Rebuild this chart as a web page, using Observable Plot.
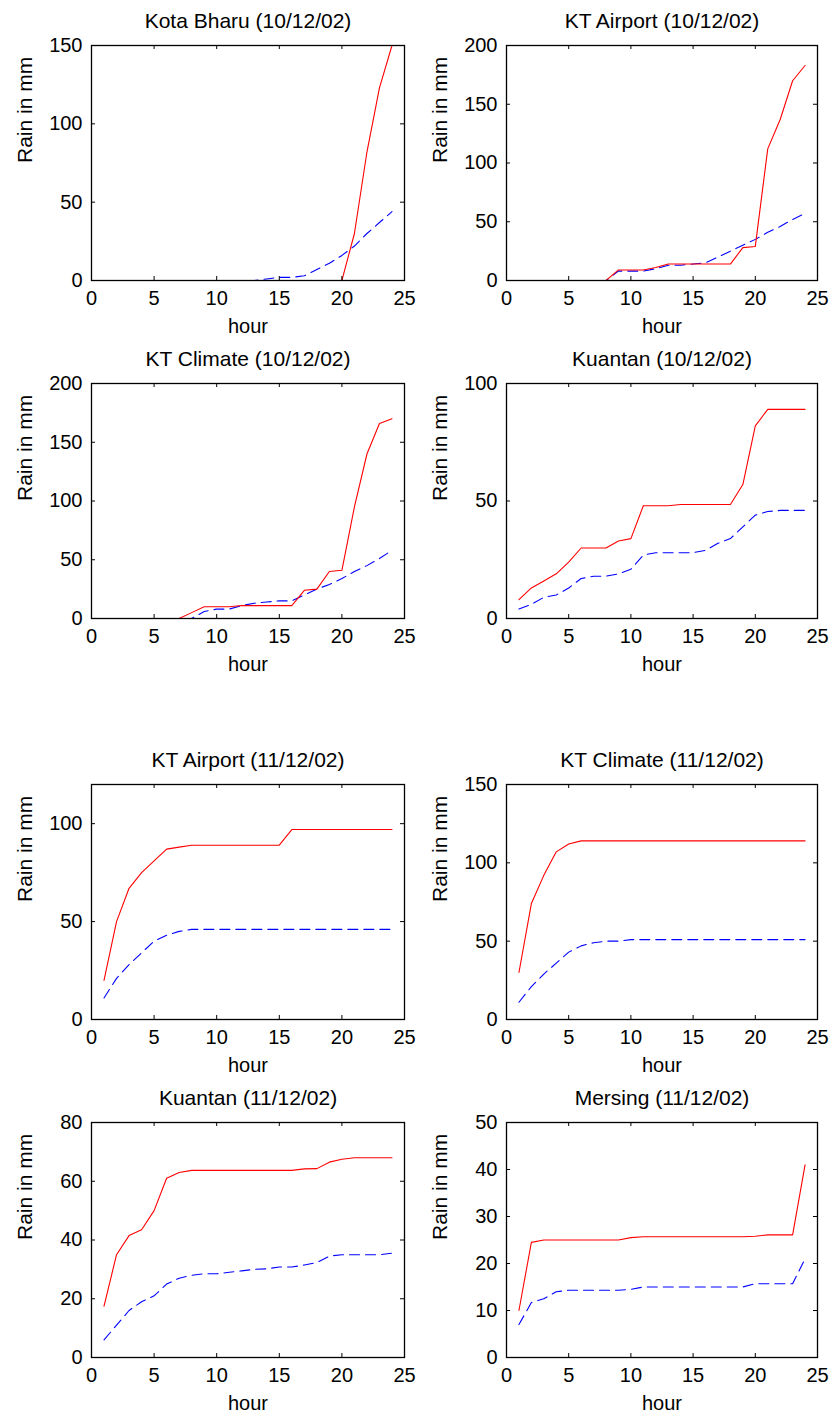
<!DOCTYPE html>
<html><head><meta charset="utf-8">
<script src="https://cdn.jsdelivr.net/npm/d3@7"></script>
<script src="https://cdn.jsdelivr.net/npm/@observablehq/plot@0.6"></script>
<style>
body{margin:0;background:#fff;}
#root{position:relative;width:834px;height:1426px;overflow:hidden;}
#root svg{position:absolute;}
</style></head><body><div id="root"></div>
<script>
const hours = [1,2,3,4,5,6,7,8,9,10,11,12,13,14,15,16,17,18,19,20,21,22,23,24];
const xTicks = [0,5,10,15,20,25];
const titles = ["Kota Bharu (10/12/02)","KT Airport (10/12/02)","KT Climate (10/12/02)","Kuantan (10/12/02)",
                "KT Airport (11/12/02)","KT Climate (11/12/02)","Kuantan (11/12/02)","Mersing (11/12/02)"];
const yMaxes = [150,200,200,100,120,150,80,50];
const yTickSets = [[0,50,100,150],[0,50,100,150,200],[0,50,100,150,200],[0,50,100],
                   [0,50,100],[0,50,100,150],[0,20,40,60,80],[0,10,20,30,40,50]];
const yLabel = "Rain in mm";
const xLabel = "hour";

const kotaBharu10Red  = [0,0,0,0,0,0,0,0,0,0,0,0,0,0,0,0,0,0,0,0,30,82,123,150];
const kotaBharu10Blue = [0,0,0,0,0,0,0,0,0,0,0,0,0,1,2,2,3,7,11,16,22,30,37,44];
const ktAirport10Red  = [0,0,0,0,0,0,0,0,9,9,9,11,14,14,14,14,14,14,28,29,112,137,170,183];
const ktAirport10Blue = [0,0,0,0,0,0,0,0,8,8,8,10,13,13,14,15,20,25,30,35,41,46,52,57];
const ktClimate10Red  = [0,0,0,0,0,0,0,5,10,10,10,11,11,11,11,11,24,25,40,41,95,140,166,170];
const ktClimate10Blue = [0,0,0,0,0,0,0,0,6,8,8,11,13,14,15,15,20,25,29,34,40,45,51,58];
const kuantan10Red    = [8,13,16,19,24,30,30,30,33,34,48,48,48,48.5,48.5,48.5,48.5,48.5,57,82,89,89,89,89];
const kuantan10Blue   = [4,6,9,10,13,17,18,18,19,21,27,28,28,28,28,29,32,34,39,44,45.5,46,46,46];
const ktAirport11Red  = [20,50,67,75,81,87,88,89,89,89,89,89,89,89,89,97,97,97,97,97,97,97,97,97];
const ktAirport11Blue = [11,21,28,34,40,43,45,46,46,46,46,46,46,46,46,46,46,46,46,46,46,46,46,46];
const ktClimate11Red  = [30,74,92,107,112,114,114,114,114,114,114,114,114,114,114,114,114,114,114,114,114,114,114,114];
const ktClimate11Blue = [11,21,29,36,43,47,49,50,50,51,51,51,51,51,51,51,51,51,51,51,51,51,51,51];
const kuantan11Red    = [17.5,35,41.5,43.5,50,61,63,63.7,63.7,63.7,63.7,63.7,63.7,63.7,63.7,63.7,64.2,64.3,66.5,67.5,68,68,68,68];
const kuantan11Blue   = [6,11,16,19,21,25,27,28,28.5,28.5,29,29.5,30,30.2,30.8,30.8,31.5,32.3,34.5,35,35,35,35,35.5];
const mersing11Red    = [10,24.5,25,25,25,25,25,25,25,25.5,25.7,25.7,25.7,25.7,25.7,25.7,25.7,25.7,25.7,25.8,26.1,26.1,26.1,41];
const mersing11Blue   = [7,11.7,12.5,14,14.3,14.3,14.3,14.3,14.3,14.5,15,15,15,15,15,15,15,15,15,15.7,15.7,15.7,15.7,21];

const reds  = [kotaBharu10Red, ktAirport10Red, ktClimate10Red, kuantan10Red, ktAirport11Red, ktClimate11Red, kuantan11Red, mersing11Red];
const blues = [kotaBharu10Blue, ktAirport10Blue, ktClimate10Blue, kuantan10Blue, ktAirport11Blue, ktClimate11Blue, kuantan11Blue, mersing11Blue];

// layout
const frameTops = [45, 383, 784, 1122];
const frameH = 235;
const mt = 45, mb = 56;
const root = document.getElementById("root");

titles.forEach((title, i) => {
  const col = i % 2, row = Math.floor(i / 2);
  const ml = col === 0 ? 91 : 89;
  const mr = col === 0 ? 13 : 17;
  const fw = 417 - ml - mr;
  const rows = hours.map((h, k) => ({hour: h, red: reds[i][k], blue: blues[i][k]}));
  const svg = Plot.plot({
    width: 417, height: mt + frameH + mb,
    marginTop: mt, marginBottom: mb, marginLeft: ml, marginRight: mr,
    style: {fontFamily: "'Liberation Sans', Arial, sans-serif", fontSize: "20px", background: "transparent", color: "#000", overflow: "visible"},
    x: {domain: [0, 25], label: null},
    y: {domain: [0, yMaxes[i]], label: null},
    marks: [
      Plot.line(rows, {x: "hour", y: "blue", stroke: "#0000ff", strokeWidth: 1.1, strokeDasharray: "10,6", clip: true}),
      Plot.line(rows, {x: "hour", y: "red", stroke: "#ff0000", strokeWidth: 1.1, clip: true}),
      Plot.frame({stroke: "#000", strokeWidth: 1.3}),
      Plot.tickX(xTicks, {x: d => d, insetTop: frameH - 4, stroke: "#000"}),
      Plot.tickX(xTicks, {x: d => d, insetBottom: frameH - 4, stroke: "#000"}),
      Plot.tickY(yTickSets[i], {y: d => d, insetLeft: fw - 4, stroke: "#000"}),
      Plot.tickY(yTickSets[i], {y: d => d, insetRight: fw - 4, stroke: "#000"}),
      Plot.axisX(xTicks, {tickSize: 0, tickPadding: 10, label: null}),
      Plot.axisY(yTickSets[i], {tickSize: 0, tickPadding: 9, label: null}),
      Plot.text([title], {text: d => d, frameAnchor: "top", lineAnchor: "middle", dy: -24, fontSize: 21}),
      Plot.text([yLabel], {text: d => d, frameAnchor: "left", lineAnchor: "middle", dx: -66, rotate: -90, fontSize: 21}),
      Plot.text([xLabel], {text: d => d, frameAnchor: "bottom", lineAnchor: "middle", dy: 46, fontSize: 20})
    ]
  });
  svg.style.left = (col * 417) + "px";
  svg.style.top = (frameTops[row] - mt) + "px";
  root.appendChild(svg);
});
</script>
</body></html>
